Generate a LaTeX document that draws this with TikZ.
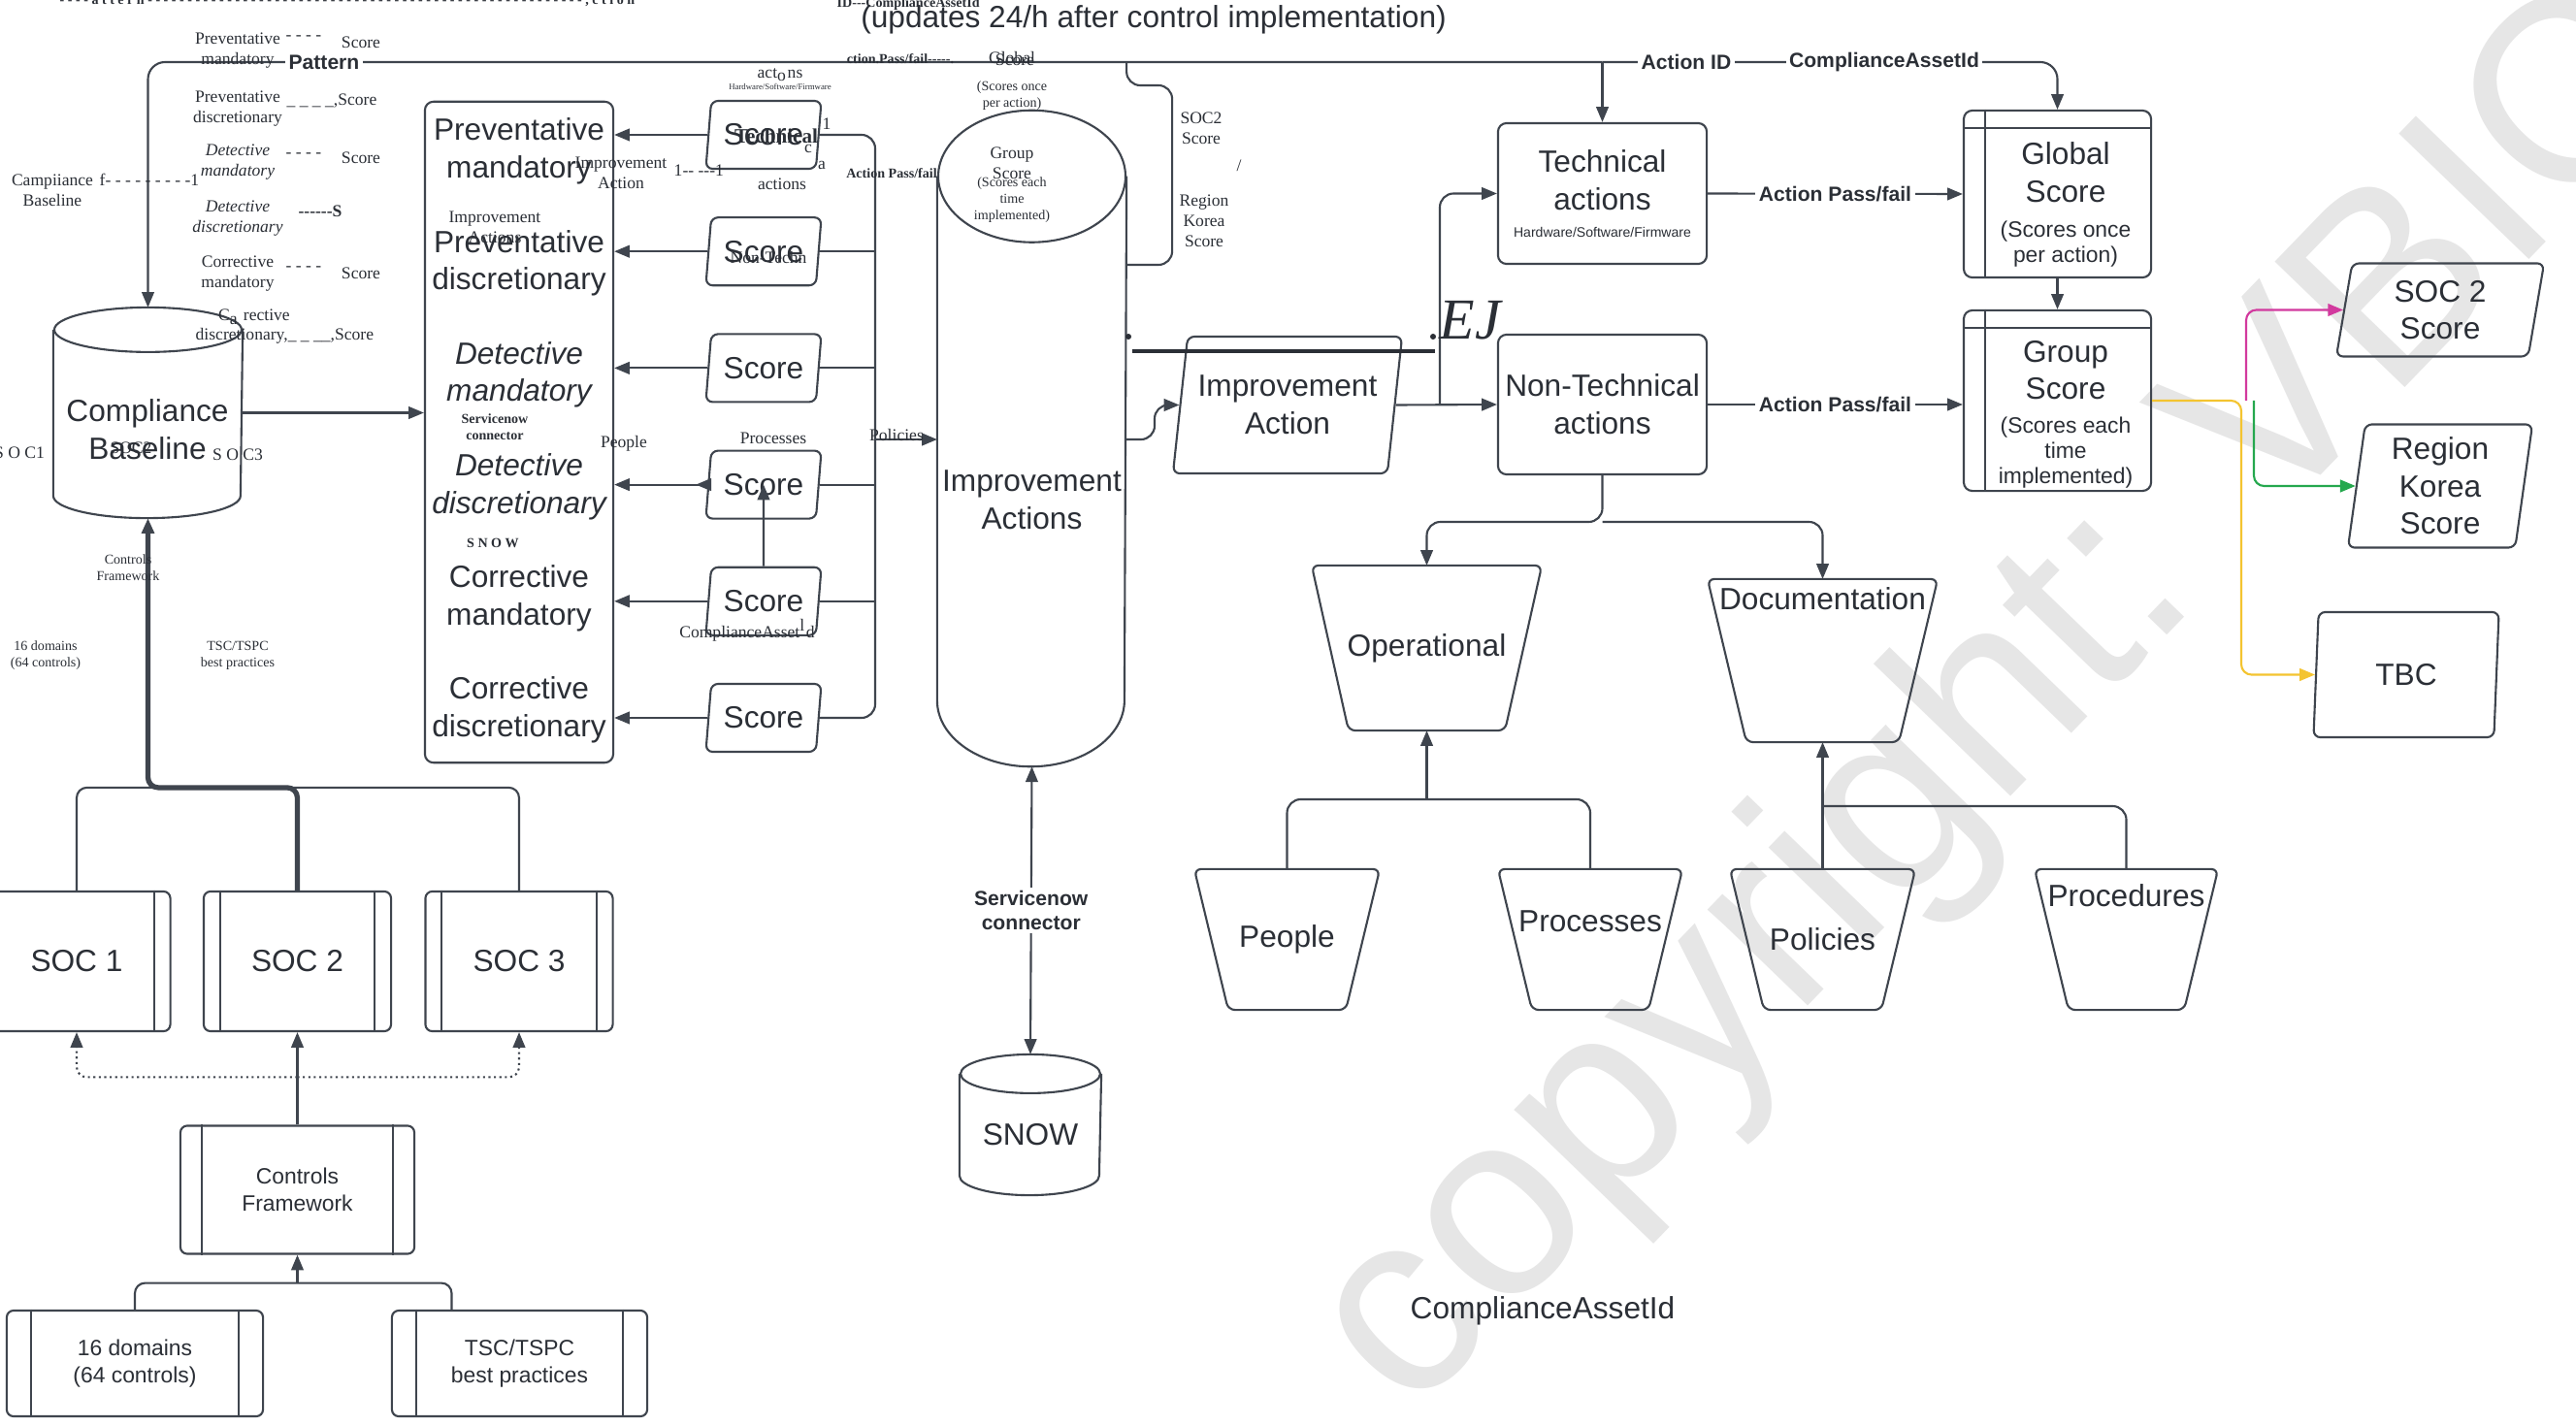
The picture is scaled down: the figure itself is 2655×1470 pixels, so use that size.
\documentclass[tikz,border=0pt]{standalone}
\usepackage{fontspec}
\setmainfont{Liberation Sans}
\newfontfamily\scrawlfont{Liberation Serif}
\usetikzlibrary{arrows.meta,positioning,calc,shapes.geometric}
\definecolor{vbInk}{HTML}{2B2F36}
\definecolor{vbLine}{HTML}{3F454E}
\definecolor{vbMark}{HTML}{E6E6E6}
\definecolor{vbPink}{HTML}{D2399E}
\definecolor{vbGreen}{HTML}{25A84E}
\definecolor{vbGold}{HTML}{F4C430}

\newcommand{\mainsz}{\fontsize{9}{11}\selectfont}
\newcommand{\notesz}{\fontsize{6.5}{7.8}\selectfont}
\newcommand{\smallsz}{\fontsize{6.5}{7.4}\selectfont}

% cylinder outline around an empty node: node, x radius, y radius
\newcommand{\drum}[3]{%
  \draw[conn] ($(#1.north west)+(0,-#3)$) -- ($(#1.south west)+(0,#3)$)
    arc[start angle=180, end angle=360, x radius=#2, y radius=#3]
    -- ($(#1.north east)+(0,-#3)$);
  \draw[conn] ($(#1.north)+(0,-#3)$) ellipse[x radius=#2, y radius=#3];
}
% bucket outline (wide top, narrow bottom) around an empty node: node, inset
\newcommand{\bucketline}[2]{%
  \draw[conn, rounded corners=2pt] (#1.north west) -- (#1.north east)
    -- ($(#1.south east)+(-#2,0)$) -- ($(#1.south west)+(#2,0)$) -- cycle;
}

\tikzset{
  base/.style={draw=vbLine, line width=0.6pt, text=vbInk, font=\mainsz,
               align=center, inner sep=0pt},
  roundbox/.style={base, rounded corners=2.5pt},
  subbox/.style={base, rounded corners=2pt},
  slantbox/.style 2 args={base, trapezium, trapezium left angle=#1,
               trapezium right angle=#2, trapezium stretches body, rounded corners=2pt},
  bucket/.style={base, draw=none},
  ghost/.style={inner sep=0pt, align=center, text=vbInk},
  conn/.style={draw=vbLine, line width=0.6pt},
  arr/.style={conn, -{Triangle[length=4.5pt,width=3.6pt]}},
  lbl/.style={font=\bfseries\fontsize{6}{7}\selectfont, text=vbInk, fill=white,
              inner sep=1pt, align=center},
  scrawl/.style={font=\scrawlfont\fontsize{5}{6}\selectfont, text=vbInk,
                 inner sep=0pt, align=center},
  scrawlit/.style={scrawl, font=\scrawlfont\itshape\fontsize{5}{6}\selectfont},
  scrawlbf/.style={scrawl, font=\scrawlfont\bfseries\fontsize{4}{4.8}\selectfont},
  scrawltiny/.style={scrawl, font=\scrawlfont\fontsize{4}{4.8}\selectfont},
}

\begin{document}
\begin{tikzpicture}[x=0.01cm, y=0.01cm]
  \fill[white] (0,0) rectangle (2655,-1470);
  \useasboundingbox (0,0) rectangle (2655,-1470);

  % watermark
  \node[rotate=46, text=vbMark, font=\fontsize{77}{77}\selectfont, inner sep=0pt]
    (mark) at (2065,-728) {copyright: VBIC};

  % ---------- frameworks and baseline
  \node[base, draw=none, minimum width=1.93cm, minimum height=2.15cm] (base) at (152.5,-425.5) {};
  \drum{base}{96.5}{23}
  \node[ghost, font=\mainsz] (basetext) at (152,-443) {Compliance\\Baseline};

  \node[subbox, minimum width=1.93cm, minimum height=1.44cm] (soc1) at (79,-991) {SOC 1};
  \node[subbox, minimum width=1.93cm, minimum height=1.44cm] (soc2) at (306.5,-991) {SOC 2};
  \node[subbox, minimum width=1.93cm, minimum height=1.44cm] (soc3) at (535,-991) {SOC 3};
  \node[subbox, font=\notesz, minimum width=2.41cm, minimum height=1.32cm] (cf) at (306.5,-1226.5) {Controls\\Framework};
  \node[subbox, font=\notesz, minimum width=2.64cm, minimum height=1.09cm] (dom) at (139,-1405.5) {16 domains\\(64 controls)};
  \node[subbox, font=\notesz, minimum width=2.63cm, minimum height=1.09cm] (tsc) at (535.5,-1405.5) {TSC/TSPC\\best practices};
  \foreach \n/\o in {soc1/18, soc2/18, soc3/18, cf/23, dom/26, tsc/26}{
    \draw[conn] ($(\n.north west)+(\o,0)$) -- ($(\n.south west)+(\o,0)$);
    \draw[conn] ($(\n.north east)+(-\o,0)$) -- ($(\n.south east)+(-\o,0)$);
  }

  \draw[arr, line width=1.5pt, rounded corners=3pt] (soc2.north) -- ++(0,106) -| (base.south);
  \draw[conn, rounded corners=3pt] (soc1.north) -- ++(0,106) -| (soc3.north);
  \coordinate (fork) at ($(cf.north)+(0,49)$);
  \draw[arr] (cf.north) -- (soc2.south);
  \draw[arr, densely dotted, rounded corners=3pt] (fork) -| (soc1.south);
  \draw[arr, densely dotted, rounded corners=3pt] (fork) -| (soc3.south);
  \coordinate (join) at ($(cf.south)+(0,-29)$);
  \draw[conn, rounded corners=3pt] (dom.north) |- (join) -| ($(tsc.north)+(-70,0)$);
  \draw[arr] (join) -- (cf.south);

  % ---------- control list and scores
  \node[roundbox, minimum width=1.94cm, minimum height=6.81cm] (plist) at (535,-445.5) {};
  \foreach \txt/\fnt [count=\i from 0] in {{Preventative\\mandatory}/\upshape,
      {Preventative\\discretionary}/\upshape, {Detective\\mandatory}/\itshape,
      {Detective\\discretionary}/\itshape, {Corrective\\mandatory}/\upshape,
      {Corrective\\discretionary}/\upshape}
    \node[ghost, font=\mainsz\fnt] (ctl\i) at (535,{-156-115.2*\i}) {\txt};
  \draw[arr] (base.east) -- (base.east -| plist.west);

  \coordinate (bus) at (902,-453);
  \foreach \i in {1,...,6}{
    \node[slantbox={76}{104}, minimum width=1.19cm, minimum height=0.7cm] (sc\i) at (787,{-139-120.2*(\i-1)}) {Score};
    \draw[arr] (sc\i.west) -- (sc\i.west -| plist.east);
  }
  \draw[conn, rounded corners=4pt] (sc1.east) -| (bus) |- (sc6.east);
  \foreach \i in {2,...,5}
    \draw[conn] (sc\i.east) -- (sc\i.east -| bus);
  \draw[arr] (sc5.north) -- (sc4.center);
  \draw[arr] (sc4.west) -- ++(-12,0);

  % ---------- improvement actions
  \node[base, draw=none, minimum width=1.93cm, minimum height=6.74cm] (impacts) at (1063.5,-452) {};
  \drum{impacts}{96.5}{68}
  \node[ghost, font=\mainsz] (impactstext) at (1063.5,-515) {Improvement\\Actions};
  \draw[arr] (bus) -- (bus -| impacts.west);

  \node[base, draw=none, minimum width=1.44cm, minimum height=1.43cm] (snow) at (1062,-1159.5) {};
  \drum{snow}{72}{20}
  \node[ghost, font=\mainsz] (snowtext) at (1062,-1170) {SNOW};
  \draw[conn, {Triangle[length=4.5pt,width=3.6pt]}-{Triangle[length=4.5pt,width=3.6pt]}]
    (impacts.south) -- node[lbl] (sncon) {Servicenow\\connector} (snow.north);

  \coordinate (rail) at (0,-64);
  \draw[conn, rounded corners=4pt] (impacts.east |- rail) -- ++(0,-24) -- ++(47,0) -- ++(0,-185) -- ++(-47,0);

  \node[slantbox={76}{104}, minimum width=2.36cm, minimum height=1.41cm] (ia) at (1327,-417.5) {Improvement\\Action};
  \coordinate (iaout) at (1160,-453);
  \draw[arr, rounded corners=4pt] (iaout) -- ++(30,0) |- (ia.west);

  % ---------- action types and scores
  \node[roundbox, minimum width=2.15cm, minimum height=1.45cm] (tech) at (1651.5,-199.5)
    {Technical\\actions\\[-3pt]\fontsize{4}{5}\selectfont Hardware/Software/Firmware};
  \node[roundbox, minimum width=2.15cm, minimum height=1.44cm] (nontech) at (1651.5,-417) {Non-Technical\\actions};
  \node[roundbox, minimum width=1.93cm, minimum height=1.72cm] (gscore) at (2120.5,-200) {};
  \node[roundbox, minimum width=1.93cm, minimum height=1.86cm] (grpscore) at (2120.5,-413) {};
  \foreach \n in {gscore,grpscore}{
    \draw[conn] ($(\n.north west)+(0,-19)$) -- ($(\n.north east)+(0,-19)$);
    \draw[conn] ($(\n.north west)+(23,0)$) -- ($(\n.south west)+(23,0)$);
  }
  \node[ghost, font=\mainsz] (gtext) at (2129,-211)
    {Global\\Score\\[-0.8pt]\smallsz(Scores once\\[-3.6pt]\smallsz per action)};
  \node[ghost, font=\mainsz] (grptext) at (2129,-427)
    {Group\\Score\\[-1.3pt]\smallsz(Scores each\\[-3.6pt]\smallsz time\\[-3.6pt]\smallsz implemented)};

  \draw[arr] (ia.east) -- (nontech.west);
  \coordinate (split) at (1484,-417);
  \draw[arr, rounded corners=4pt] (split) |- (tech.west);
  \draw[arr] (tech.east) -- node[lbl] (pf1) {Action Pass/fail} (gscore.west);
  \draw[arr] (nontech.east) -- node[lbl] (pf2) {Action Pass/fail} (nontech.east -| grpscore.west);
  \draw[arr] (gscore.south) -- (grpscore.north);

  % top rail
  \draw[arr, rounded corners=5pt] (tech.north |- rail) -| (base.north);
  \draw[arr, rounded corners=5pt] (tech.north |- rail) -| (gscore.north);
  \draw[arr] (tech.north |- rail) -- (tech.north);
  \node[lbl] (railpat) at (334,-64) {Pattern};
  \node[lbl] (railid) at (1738,-64) {Action ID};
  \node[lbl] (railasset) at (1942,-64) {ComplianceAssetId};

  % ---------- outputs
  \node[slantbox={75}{105}, minimum width=2.14cm, minimum height=0.96cm] (soc2s) at (2515,-319.5) {SOC 2\\Score};
  \node[slantbox={80}{100}, minimum width=1.9cm, minimum height=1.27cm] (region) at (2515,-501) {Region\\Korea\\Score};
  \node[slantbox={77}{103}, minimum width=1.91cm, minimum height=1.29cm] (tbc) at (2480,-695.5) {TBC};
  \coordinate (fan) at (2310,-413);
  \draw[arr, color=vbGold, rounded corners=3pt] (grpscore.east) -- (fan) |- (tbc.west);
  \draw[arr, color=vbPink, rounded corners=3pt] ($(fan)+(5,0)$) |- (soc2s.west);
  \draw[arr, color=vbGreen, rounded corners=3pt] ($(fan)+(13,0)$) |- (region.west);

  % ---------- operational / documentation
  \node[bucket, minimum width=2.35cm, minimum height=1.68cm] (oper) at (1470.5,-668) {Operational};
  \node[bucket, minimum width=2.35cm, minimum height=1.66cm] (docu) at (1878.5,-681) {};
  \node[ghost, font=\mainsz, anchor=north] (docutext) at ($(docu.north)+(0,-8)$) {Documentation};
  \node[bucket, minimum width=1.89cm, minimum height=1.43cm] (people) at (1326.5,-968.5) {People};
  \node[bucket, minimum width=1.88cm, minimum height=1.43cm] (proc) at (1639,-968.5) {};
  \node[ghost, font=\mainsz] (proctext) at (1639,-950) {Processes};
  \node[bucket, minimum width=1.89cm, minimum height=1.43cm] (polic) at (1878.5,-968.5) {Policies};
  \node[bucket, minimum width=1.87cm, minimum height=1.43cm] (proced) at (2191.5,-968.5) {};
  \node[ghost, font=\mainsz] (procedtext) at (2191.5,-923) {Procedures};
  \bucketline{oper}{38}
  \bucketline{docu}{40}
  \foreach \n in {people,proc,polic,proced}{
    \bucketline{\n}{35}
  }

  \coordinate (ntfork) at (1651.5,-538);
  \draw[arr, rounded corners=4pt] (nontech.south) -- (ntfork) -| (oper.north);
  \draw[arr, rounded corners=4pt] (ntfork) -| (docu.north);
  \coordinate (opjoin) at (1470.5,-824);
  \draw[conn, rounded corners=4pt] (people.north) |- (opjoin) -| (proc.north);
  \draw[arr] (opjoin) -- (oper.south);
  \coordinate (docjoin) at (1878.5,-831);
  \draw[arr] (polic.north) -- (docu.south);
  \draw[conn, rounded corners=4pt] (docjoin) -| (proced.north);

  % ---------- free texts
  \node[ghost, font=\mainsz] (updates) at (1189,-20) {(updates 24/h after control implementation)};
  \node[ghost, font=\mainsz] (assetid) at (1590,-1351) {ComplianceAssetId};

  % ---------- stray overprinted labels
  \node[scrawlbf, anchor=base west] (s0) at (61,-5) {- - - - a t t e r n - - - - - - - - - - - - - - - - - - - - - - - - - - - - - - - - - - - - - - - - - - - - - - - - - - - - - - - , c t i o n};
  \node[scrawl] (s1) at (245,-52) {Preventative\\mandatory};
  \node[scrawl] (s2) at (313,-39) {- - - -};
  \node[scrawl] (s3) at (372,-44) {Score};
  \node[scrawl] (s4) at (245,-112) {Preventative\\discretionary};
  \node[scrawl] (s5) at (342,-104) {\_ \_ \_ \_,Score};
  \node[scrawlit] (s6) at (245,-167) {Detective\\mandatory};
  \node[scrawl] (s7) at (313,-160) {- - - -};
  \node[scrawl] (s8) at (372,-163) {Score};
  \node[scrawlit] (s9) at (245,-225) {Detective\\discretionary};
  \node[scrawl, font=\scrawlfont\bfseries\fontsize{5}{6}\selectfont] (s10) at (330,-218) {------S};
  \node[scrawl] (s11) at (245,-282) {Corrective\\mandatory};
  \node[scrawl] (s12) at (313,-277) {- - - -};
  \node[scrawl] (s13) at (372,-282) {Score};
  \node[scrawl] (s14) at (262,-327) {C\textsubscript{a} rective};
  \node[scrawl, anchor=west] (s15) at (201,-346) {discretionary,\_ \_ \_\_,Score};
  \node[scrawl] (s16) at (54,-196) {Campiiance\\Baseline};
  \node[scrawl, anchor=west] (s17) at (102,-185) {f- - - - - - - - -1};
  \node[scrawl] (s18) at (20,-467) {S O C1};
  \node[scrawl] (s19) at (135,-462) {SOC2};
  \node[scrawl] (s20) at (245,-469) {S O C3};
  \node[scrawltiny] (s21) at (132,-585) {Controls\\Framework};
  \node[scrawltiny] (s22) at (47,-676) {16 domains\\(64 controls)};
  \node[scrawltiny] (s23) at (245,-676) {TSC/TSPC\\best practices};
  \node[scrawl] (s24) at (804,-77) {act\textsubscript{o}ns};
  \node[scrawl, font=\scrawlfont\fontsize{2.5}{3}\selectfont] (s25) at (804,-89) {Hardware/Software/Firmware};
  \node[scrawl, font=\scrawlfont\bfseries\fontsize{6}{7}\selectfont] (s26) at (800,-140) {Technical};
  \node[scrawl] (s27) at (852,-128) {1};
  \node[scrawl] (s28) at (833,-153) {c};
  \node[scrawl] (s29) at (847,-170) {a};
  \node[scrawl] (s30) at (640,-178) {Improvement\\Action};
  \node[scrawl, anchor=west] (s31) at (694,-176) {1-- ---1};
  \node[scrawl] (s32) at (806,-190) {actions};
  \node[scrawlbf] (s33) at (919,-179) {Action Pass/fail};
  \node[scrawl] (s34) at (510,-234) {Improvement\\Actions};
  \node[scrawl] (s35) at (792,-265) {Non-Techn};
  \node[scrawlbf] (s36) at (510,-440) {Servicenow\\connector};
  \node[scrawl] (s37) at (643,-457) {People};
  \node[scrawl] (s38) at (797,-452) {Processes};
  \node[scrawl] (s39) at (924,-448) {Policies};
  \node[scrawlbf] (s40) at (508,-560) {S N O W};
  \node[scrawl] (s41) at (770,-650) {ComplianceAsset\textsuperscript{l}d};
  \node[scrawlbf, anchor=base west] (s42) at (862,-8) {ID---ComplianceAssetId};
  \node[scrawlbf] (s43) at (928,-61) {ction.Pass/fail-----.};
  \node[scrawl] (s44) at (1043,-59) {Global};
  \node[scrawl] (s45) at (1046,-62) {Score};
  \node[scrawltiny] (s46) at (1043,-99) {(Scores once\\per action)};
  \node[scrawl] (s47) at (1043,-168) {Group\\Score};
  \node[scrawltiny] (s48) at (1043,-206) {(Scores each\\time\\implemented)};
  \node[scrawl] (s49) at (1238,-132) {SOC2\\Score};
  \node[scrawl] (s50) at (1241,-228) {Region\\Korea\\Score};
  \node[scrawl] (s51) at (1277,-171) {/};
  \node[scrawl, font=\scrawlfont\itshape\fontsize{17}{17}\selectfont] (s52) at (1515,-330) {EJ};
  \coordinate (dotL) at (1163,-347);
  \coordinate (dotR) at (1477,-347);
  \fill[vbInk] (dotL) circle[radius=3];
  \fill[vbInk] (dotR) circle[radius=3];
  \draw[vbInk, line width=1.3pt] ($(dotL)+(4,-15)$) -- ($(dotR)+(2,-15)$);
\end{tikzpicture}
\end{document}
